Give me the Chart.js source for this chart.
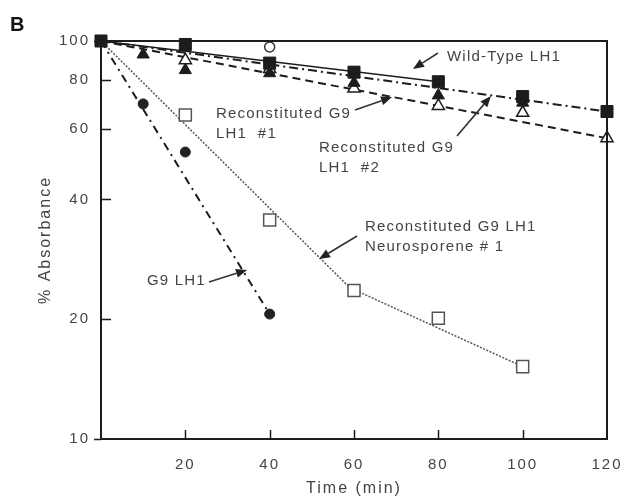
<!DOCTYPE html>
<html>
<head>
<meta charset="utf-8">
<script src="https://cdn.jsdelivr.net/npm/chart.js@4/dist/chart.umd.min.js"></script>
<style>
  html, body { margin: 0; padding: 0; background: #fff; }
</style>
</head>
<body>
<canvas id="chart" width="629" height="500"></canvas>
<script>
// axis ticks
const xTicks = [20, 40, 60, 80, 100, 120];
const yTicks = [10, 20, 40, 60, 80, 100];

// measured points (% absorbance vs time in min)
const wildTypeTimes = [0, 20, 40, 60, 80, 100, 120];
const wildType = [100, 98, 88, 83.5, 79, 72.5, 66.5];
const filledTriTimes = [10, 20, 40, 60, 80, 100];
const filledTri = [92.5, 84.5, 83, 78.5, 73, 70];
const openTriTimes = [20, 40, 60, 80, 100, 120];
const openTri = [89.5, 85, 76, 68.7, 66, 57];
const openCircleTimes = [40];
const openCircle = [96.6];
const neuroTimes = [20, 40, 60, 80, 100];
const neuro = [65.2, 35.5, 23.6, 20.1, 15.2];
const g9Times = [10, 20, 40];
const g9 = [69.5, 52.6, 20.6];

// fitted lines
const wtFitTimes = [0, 80];
const wtFit = [100, 79];
const rec1FitTimes = [0, 120];
const rec1Fit = [100, 57];
const rec2FitTimes = [0, 120];
const rec2Fit = [100, 66.5];
const neuroFitTimes = [0, 59, 100];
const neuroFit = [100, 24, 15.2];
const g9FitTimes = [0, 40];
const g9Fit = [100, 20.6];

const FONT = "'Liberation Sans', Arial, Helvetica, sans-serif";
const INK = "#1c1c1c";
const TEXT = "#444";

function pts(xs, ys) {
  return xs.map((x, i) => ({ x: x, y: ys[i] }));
}

function fitLine(xs, ys, dash, width, color) {
  return {
    data: pts(xs, ys),
    showLine: true,
    pointRadius: 0,
    borderColor: color || INK,
    borderWidth: width,
    borderDash: dash,
    fill: false,
    order: 5,
  };
}

function markers(xs, ys, style, radius, fillColor, strokeColor, bw) {
  return {
    data: pts(xs, ys),
    showLine: false,
    pointStyle: style,
    pointRadius: radius,
    pointHoverRadius: radius,
    pointBackgroundColor: fillColor,
    pointBorderColor: strokeColor,
    pointBorderWidth: bw,
    order: 1,
  };
}

// text notes with arrows (pixel layout)
const notes = [
  { lines: ["Wild-Type LH1"], x: 447, y: 57, tail: [438, 53], tip: [413, 69] },
  { lines: ["Reconstituted G9", "LH1  #1"], x: 216, y: 114, tail: [355, 110], tip: [392, 97] },
  { lines: ["Reconstituted G9", "LH1  #2"], x: 319, y: 148, tail: [457, 136], tip: [491, 96] },
  { lines: ["Reconstituted G9 LH1", "Neurosporene # 1"], x: 365, y: 227, tail: [357, 236], tip: [319, 259] },
  { lines: ["G9 LH1"], x: 147, y: 281, tail: [209, 282], tip: [247, 270] },
];

const extras = {
  id: "extras",
  beforeDraw(chart) {
    chart.ctx.letterSpacing = "2px";
  },
  afterDraw(chart) {
    const ctx = chart.ctx;
    const a = chart.chartArea;
    const xs = chart.scales.x;
    const ys = chart.scales.y;
    ctx.save();
    ctx.letterSpacing = "0px";
    ctx.strokeStyle = INK;
    ctx.lineWidth = 2;
    // top and right frame
    ctx.beginPath();
    ctx.moveTo(a.left, a.top);
    ctx.lineTo(a.right, a.top);
    ctx.lineTo(a.right, a.bottom);
    ctx.stroke();
    // inward tick marks
    ctx.lineWidth = 1.5;
    ctx.beginPath();
    yTicks.forEach((v) => {
      const py = Math.round(ys.getPixelForValue(v)) + 0.5;
      if (v === 10 || v === 100) {
        ctx.moveTo(a.left - 7, py);
        ctx.lineTo(a.left, py);
      } else {
        ctx.moveTo(a.left, py);
        ctx.lineTo(a.left + 10, py);
      }
    });
    xTicks.forEach((v) => {
      if (v === 120) return;
      const px = Math.round(xs.getPixelForValue(v)) + 0.5;
      ctx.moveTo(px, a.bottom);
      ctx.lineTo(px, a.bottom - 9);
    });
    ctx.stroke();

    // notes
    ctx.fillStyle = TEXT;
    ctx.font = "15px " + FONT;
    ctx.letterSpacing = "1.2px";
    ctx.textBaseline = "middle";
    ctx.textAlign = "left";
    notes.forEach((n) => {
      n.lines.forEach((t, i) => ctx.fillText(t, n.x, n.y + i * 20));
      const [x1, y1] = n.tail;
      const [x2, y2] = n.tip;
      const ang = Math.atan2(y2 - y1, x2 - x1);
      const len = 11, half = 4.5;
      const bx = x2 - len * Math.cos(ang);
      const by = y2 - len * Math.sin(ang);
      ctx.strokeStyle = "#333";
      ctx.lineWidth = 1.6;
      ctx.beginPath();
      ctx.moveTo(x1, y1);
      ctx.lineTo(bx, by);
      ctx.stroke();
      ctx.fillStyle = "#222";
      ctx.beginPath();
      ctx.moveTo(x2, y2);
      ctx.lineTo(bx + half * Math.sin(ang), by - half * Math.cos(ang));
      ctx.lineTo(bx - half * Math.sin(ang), by + half * Math.cos(ang));
      ctx.closePath();
      ctx.fill();
      ctx.fillStyle = TEXT;
    });

    // panel letter
    ctx.letterSpacing = "0px";
    ctx.fillStyle = "#111";
    ctx.font = "bold 20px " + FONT;
    ctx.textBaseline = "alphabetic";
    ctx.fillText("B", 10, 31);
    ctx.restore();
  },
};

new Chart(document.getElementById("chart"), {
  type: "scatter",
  data: {
    datasets: [
      markers(wildTypeTimes, wildType, "rect", 8.5, INK, INK, 1),
      markers(filledTriTimes, filledTri, "triangle", 7, INK, INK, 1),
      markers(openTriTimes, openTri, "triangle", 7, "#fff", INK, 1.5),
      markers(openCircleTimes, openCircle, "circle", 5, "#fff", "#333", 1.5),
      markers(neuroTimes, neuro, "rect", 8.5, "#fff", "#555", 1.5),
      markers(g9Times, g9, "circle", 5, "#222", "#222", 1),
      fitLine(wtFitTimes, wtFit, [], 1.5),
      fitLine(rec2FitTimes, rec2Fit, [9, 4, 2, 4], 2),
      fitLine(rec1FitTimes, rec1Fit, [8, 5], 2),
      fitLine(neuroFitTimes, neuroFit, [2, 1.5], 1.5, "#555"),
      fitLine(g9FitTimes, g9Fit, [8, 5, 2, 5], 2),
    ],
  },
  options: {
    responsive: false,
    animation: false,
    events: [],
    clip: false,
    layout: { padding: { top: 41, right: 22, left: 0, bottom: 0 } },
    plugins: {
      legend: { display: false },
      tooltip: { enabled: false },
    },
    scales: {
      x: {
        type: "linear",
        min: 0,
        max: 120,
        afterBuildTicks: (s) => { s.ticks = xTicks.map((v) => ({ value: v })); },
        afterFit: (s) => {
          s.height = 61;
          s.paddingLeft = 0;
          s.paddingRight = 0;
        },
        grid: { display: false, drawTicks: false },
        border: { display: true, color: INK, width: 2 },
        ticks: {
          color: TEXT,
          padding: 17,
          maxRotation: 0,
          autoSkip: false,
          font: { family: FONT, size: 15 },
          callback: (v) => String(v),
        },
        title: {
          display: true,
          text: "Time (min)",
          color: TEXT,
          font: { family: FONT, size: 16 },
          padding: { top: 0, bottom: 2 },
        },
      },
      y: {
        type: "logarithmic",
        min: 10,
        max: 100,
        afterBuildTicks: (s) => { s.ticks = yTicks.map((v) => ({ value: v })); },
        afterFit: (s) => {
          s.width = 101;
          s.paddingTop = 0;
          s.paddingBottom = 0;
        },
        grid: { display: false, drawTicks: false },
        border: { display: true, color: INK, width: 2 },
        ticks: {
          color: TEXT,
          padding: 11,
          autoSkip: false,
          font: { family: FONT, size: 15 },
          callback: (v) => String(v),
        },
        title: {
          display: true,
          text: "% Absorbance",
          color: TEXT,
          font: { family: FONT, size: 16 },
          padding: { top: 36, bottom: 0 },
        },
      },
    },
  },
  plugins: [extras],
});
</script>
</body>
</html>
